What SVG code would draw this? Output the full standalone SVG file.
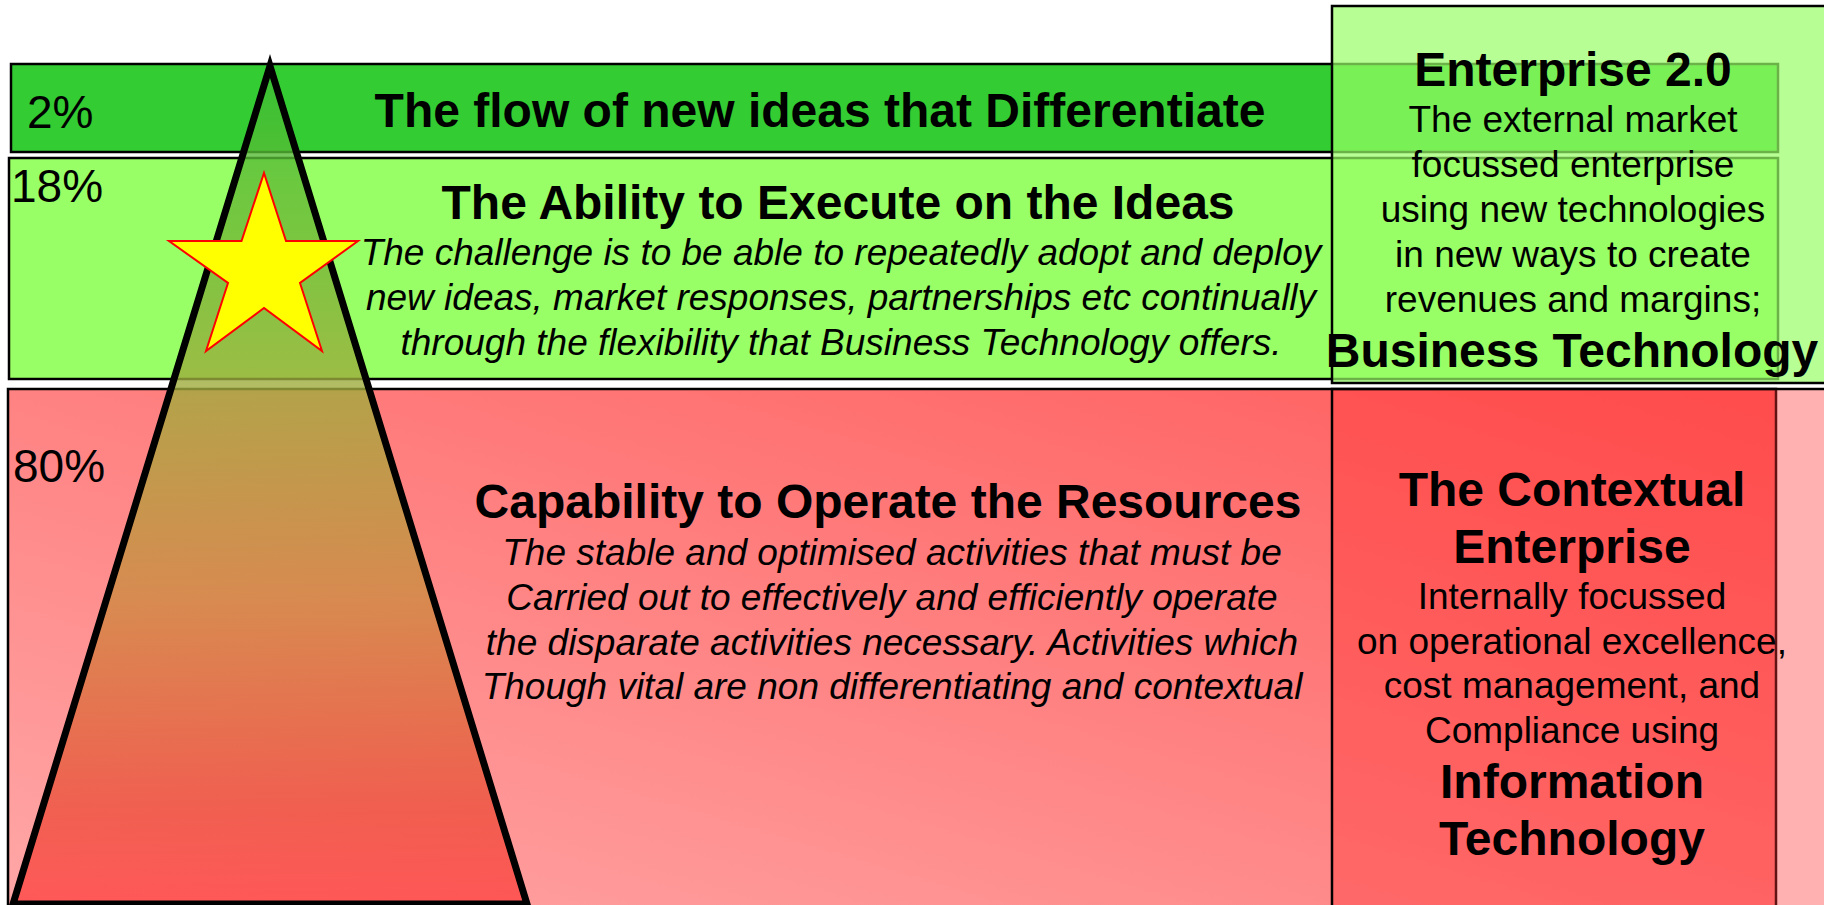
<svg xmlns="http://www.w3.org/2000/svg" width="1824" height="905" viewBox="0 0 1824 905">
<defs>
<linearGradient id="redBand" x1="1" y1="0" x2="0" y2="1">
<stop offset="0" stop-color="#FF5C5C"/>
<stop offset="1" stop-color="#FFA8A8"/>
</linearGradient>
<linearGradient id="triFill" gradientUnits="userSpaceOnUse" x1="0" y1="56" x2="0" y2="905">
<stop offset="0" stop-color="#33C033"/>
<stop offset="0.17" stop-color="#66BA36"/>
<stop offset="0.4" stop-color="#A2AB3D"/>
<stop offset="0.64" stop-color="#CE8A41"/>
<stop offset="0.88" stop-color="#EC513D"/>
<stop offset="1" stop-color="#FF4545"/>
</linearGradient>
</defs>
<style>
.band{stroke:#000;stroke-width:2.5}
.t{font-family:"Liberation Sans",Arial,sans-serif;fill:#000}
.pct{font-size:46px}
.h{font-size:48px;font-weight:bold;text-anchor:middle}
.it{font-size:37px;font-style:italic;text-anchor:middle}
.r{font-size:37px;text-anchor:middle}
</style>
<rect x="0" y="0" width="1824" height="905" fill="#FFFFFF"/>

<g id="band-differentiate">
<rect class="band" x="11" y="64" width="1767" height="88" fill="#33CC33"/>
</g>
<g id="band-execute">
<rect class="band" x="9" y="158" width="1769" height="221" fill="#99FF66"/>
</g>
<g id="band-operate">
<rect class="band" x="8" y="389" width="1768" height="530" fill="url(#redBand)"/>
</g>

<g id="panel-enterprise20">
<rect x="1332" y="6" width="520" height="377" fill="#99FF66" fill-opacity="0.7" stroke="#000" stroke-width="2.5"/>
</g>
<g id="panel-contextual">
<rect x="1332" y="389" width="520" height="530" fill="#FF3333" fill-opacity="0.38" stroke="#000" stroke-width="2.5"/>
</g>

<g id="pyramid">
<polygon points="270,66 527,904 13,904" fill="url(#triFill)" fill-opacity="0.8" stroke="#000" stroke-width="7"/>
</g>
<g id="star">
<polygon points="264,173 286,241 358,241 300,283 322,351 264,308 206,351 228,283 169,241 241.5,241" fill="#FFFF00" stroke="#FF0000" stroke-width="2"/>
</g>

<g id="label-differentiate">
<text class="t pct" x="27" y="128">2%</text>
<text class="t h" x="820" y="127">The flow of new ideas that Differentiate</text>
</g>
<g id="label-execute">
<text class="t pct" x="11" y="202">18%</text>
<text class="t h" x="838" y="219">The Ability to Execute on the Ideas</text>
<text class="t it" x="841" y="265">The challenge is to be able to repeatedly adopt and deploy</text>
<text class="t it" x="841" y="310">new ideas, market responses, partnerships etc continually</text>
<text class="t it" x="841" y="355">through the flexibility that Business Technology offers.</text>
</g>
<g id="label-operate">
<text class="t pct" x="13" y="482">80%</text>
<text class="t h" x="888" y="518">Capability to Operate the Resources</text>
<text class="t it" x="892" y="565">The stable and optimised activities that must be</text>
<text class="t it" x="892" y="610">Carried out to effectively and efficiently operate</text>
<text class="t it" x="892" y="655">the disparate activities necessary. Activities which</text>
<text class="t it" x="892" y="699">Though vital are non differentiating and contextual</text>
</g>
<g id="label-enterprise20">
<text class="t h" x="1573" y="86">Enterprise 2.0</text>
<text class="t r" x="1573" y="132">The external market</text>
<text class="t r" x="1573" y="177">focussed enterprise</text>
<text class="t r" x="1573" y="222">using new technologies</text>
<text class="t r" x="1573" y="267">in new ways to create</text>
<text class="t r" x="1573" y="312">revenues and margins;</text>
<text class="t h" x="1572" y="367">Business Technology</text>
</g>
<g id="label-contextual">
<text class="t h" x="1572" y="506">The Contextual</text>
<text class="t h" x="1572" y="563">Enterprise</text>
<text class="t r" x="1572" y="609">Internally focussed</text>
<text class="t r" x="1572" y="654">on operational excellence,</text>
<text class="t r" x="1572" y="698">cost management, and</text>
<text class="t r" x="1572" y="743">Compliance using</text>
<text class="t h" x="1572" y="798">Information</text>
<text class="t h" x="1572" y="855">Technology</text>
</g>
</svg>
